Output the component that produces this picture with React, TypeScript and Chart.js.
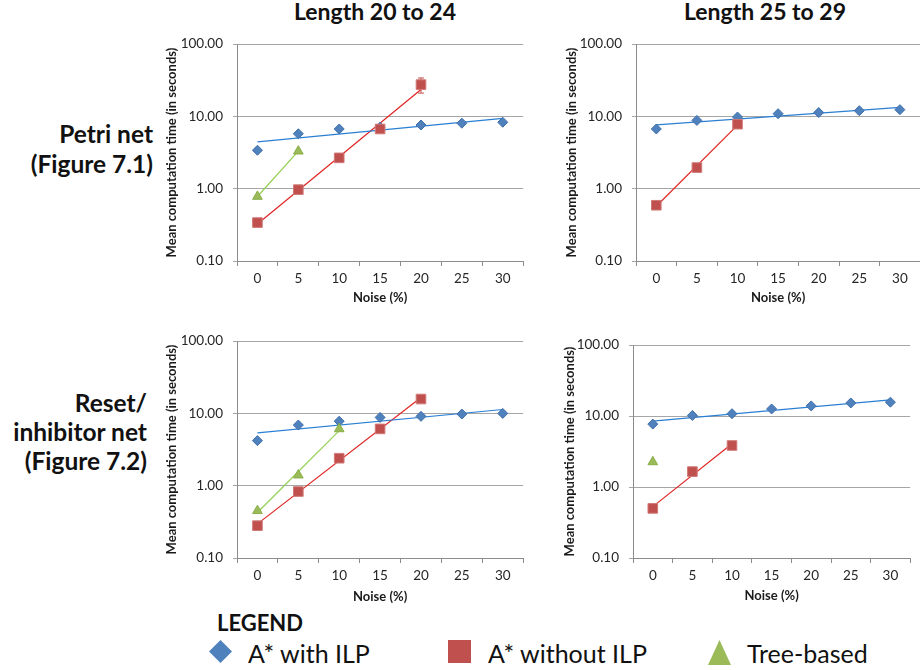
import React, { useEffect, useRef } from "react";
import { Chart, registerables } from "chart.js";
Chart.register(...registerables);

// ---------- data ----------
const noiseLabels = ["0", "5", "10", "15", "20", "25", "30"];
const yTickValues = [0.1, 1, 10, 100];

const colTitles = ["Length 20 to 24", "Length 25 to 29"];
const rowTitlePetri = ["Petri net", "(Figure 7.1)"];
const rowTitleReset = ["Reset/", "inhibitor net", "(Figure 7.2)"];
const legendNames = ["A* with ILP", "A* without ILP", "Tree-based"];

// Petri net, length 20 to 24
const petri20WithILP = [3.4, 5.75, 6.7, 7.1, 7.6, 8.05, 8.3];
const petri20WithoutILP = [0.34, 0.97, 2.67, 6.7, 27.5, null, null];
const petri20WithoutILPErrLow = [null, null, null, null, 21, null, null];
const petri20WithoutILPErrHigh = [null, null, null, null, 34, null, null];
const petri20Tree = [0.78, 3.3, null, null, null, null, null];

// Petri net, length 25 to 29
const petri25WithILP = [6.7, 8.8, 9.8, 10.9, 11.3, 12.0, 12.4];
const petri25WithoutILP = [0.59, 1.96, 7.8, null, null, null, null];
const petri25Tree = [null, null, null, null, null, null, null];

// Reset/inhibitor net, length 20 to 24
const reset20WithILP = [4.2, 6.9, 7.8, 8.8, 9.1, 9.8, 10.0];
const reset20WithoutILP = [0.28, 0.83, 2.4, 6.1, 15.8, null, null];
const reset20Tree = [0.45, 1.4, 6.1, null, null, null, null];

// Reset/inhibitor net, length 25 to 29
const reset25WithILP = [7.7, 10.2, 10.8, 12.6, 13.9, 15.3, 15.7];
const reset25WithoutILP = [0.5, 1.65, 3.85, null, null, null, null];
const reset25Tree = [2.26, null, null, null, null, null, null];

// ---------- styles ----------
const FONT = "Lato, 'Open Sans', sans-serif";
const BLUE = "#4F81BD";
const RED = "#C0504D";
const GREEN = "#9BBB59";
const BLUE_TREND = "#2A7FD2";
const RED_TREND = "#E02424";
const GREEN_TREND = "#92D050";

// Excel-style exponential trendline (least squares on log values)
function expTrend(values: (number | null)[]) {
  const pts: { x: number; y: number; label: string }[] = [];
  values.forEach((v, i) => {
    if (v != null) pts.push({ x: Number(noiseLabels[i]), y: Math.log(v), label: noiseLabels[i] });
  });
  if (pts.length < 2) return [];
  const n = pts.length;
  const mx = pts.reduce((s, p) => s + p.x, 0) / n;
  const my = pts.reduce((s, p) => s + p.y, 0) / n;
  let sxy = 0, sxx = 0;
  pts.forEach((p) => { sxy += (p.x - mx) * (p.y - my); sxx += (p.x - mx) * (p.x - mx); });
  const b = sxy / sxx;
  const a = my - b * mx;
  const first = pts[0], last = pts[n - 1];
  return [
    { x: first.label, y: Math.exp(a + b * first.x) },
    { x: last.label, y: Math.exp(a + b * last.x) },
  ];
}

const errorBarPlugin = {
  id: "errorBars",
  beforeDatasetsDraw(chart: any) {
    const ctx = chart.ctx;
    const ys = chart.scales.y;
    chart.data.datasets.forEach((ds: any, di: number) => {
      if (!ds.errLow || !ds.errHigh) return;
      const meta = chart.getDatasetMeta(di);
      ds.errLow.forEach((lo: number | null, i: number) => {
        const hi = ds.errHigh[i];
        if (lo == null || hi == null || !meta.data[i]) return;
        const x = meta.data[i].x;
        const y1 = ys.getPixelForValue(lo);
        const y2 = ys.getPixelForValue(hi);
        ctx.save();
        ctx.strokeStyle = ds.errColor || RED;
        ctx.lineWidth = 1;
        ctx.beginPath();
        ctx.moveTo(x, y1); ctx.lineTo(x, y2);
        ctx.moveTo(x - 3, y1); ctx.lineTo(x + 3, y1);
        ctx.moveTo(x - 3, y2); ctx.lineTo(x + 3, y2);
        ctx.stroke();
        ctx.restore();
      });
    });
  },
};

type PanelProps = {
  left: number; top: number; width: number; height: number;
  yAxisWidth: number; xAxisHeight: number;
  withILP: (number | null)[]; withoutILP: (number | null)[]; tree: (number | null)[];
  errLow?: (number | null)[]; errHigh?: (number | null)[];
};

function Panel(p: PanelProps) {
  const ref = useRef<HTMLCanvasElement>(null);
  useEffect(() => {
    if (!ref.current) return;
    const tickFont = { family: FONT, size: 13.5 };
    const series = [
      { data: p.withILP, color: BLUE, border: "#3F6FAA", trend: BLUE_TREND, style: "rectRot", radius: 5, order: 3 },
      { data: p.withoutILP, color: RED, border: "#D07A78", trend: RED_TREND, style: "rect", radius: 6.8, order: 2, errLow: p.errLow, errHigh: p.errHigh },
      { data: p.tree, color: GREEN, border: "#8AAE4A", trend: GREEN_TREND, style: "triangle", radius: 5.6, order: 1 },
    ];
    const datasets: any[] = [];
    series.forEach((s, k) => {
      datasets.push({
        label: legendNames[k],
        data: s.data,
        showLine: false,
        pointStyle: s.style,
        pointRadius: s.radius,
        pointBackgroundColor: s.color,
        pointBorderColor: s.border,
        pointBorderWidth: 1,
        backgroundColor: s.color,
        borderColor: s.color,
        order: s.order,
        errLow: (s as any).errLow,
        errHigh: (s as any).errHigh,
      });
      const t = expTrend(s.data);
      if (t.length) {
        datasets.push({
          label: legendNames[k] + " trend",
          data: t,
          borderColor: s.trend,
          borderWidth: 1.2,
          pointRadius: 0,
          fill: false,
          order: 10 + k,
        });
      }
    });
    const chart = new Chart(ref.current, {
      type: "line",
      data: { labels: noiseLabels, datasets },
      plugins: [errorBarPlugin],
      options: {
        responsive: false,
        animation: false,
        devicePixelRatio: 1,
        layout: { padding: { top: 10, right: 0, bottom: 0, left: 0 } },
        plugins: { legend: { display: false }, tooltip: { enabled: false } },
        scales: {
          x: {
            type: "category",
            offset: true,
            grid: { offset: true, drawOnChartArea: false, drawTicks: true, tickLength: 5, color: "#8c8c8c" },
            border: { color: "#8c8c8c", width: 1 },
            ticks: { font: tickFont, color: "#262626", padding: 5, maxRotation: 0, autoSkip: false },
            title: {
              display: true, text: "Noise (%)", color: "#1a1a1a",
              font: { family: FONT, size: 13, weight: "bold" }, padding: { top: 0, bottom: 4 },
            },
            afterFit: (s: any) => { s.height = p.xAxisHeight; },
          },
          y: {
            type: "logarithmic",
            min: 0.1,
            max: 100,
            afterBuildTicks: (s: any) => { s.ticks = yTickValues.map((v) => ({ value: v })); },
            grid: { color: "#a6a6a6", lineWidth: 1, drawTicks: true, tickLength: 4 },
            border: { color: "#8c8c8c", width: 1 },
            ticks: {
              font: tickFont, color: "#262626", padding: 10, autoSkip: false,
              callback: (v: any) => Number(v).toFixed(2),
            },
            title: {
              display: true, text: "Mean computation time (in seconds)", color: "#1a1a1a",
              font: { family: FONT, size: 13, weight: "bold" }, padding: { top: 3, bottom: 0 },
            },
            afterFit: (s: any) => { s.width = p.yAxisWidth; },
          },
        },
      } as any,
    });
    return () => chart.destroy();
  }, []);
  return (
    <canvas
      ref={ref}
      width={p.width}
      height={p.height}
      style={{ position: "absolute", left: p.left, top: p.top, width: p.width, height: p.height }}
    />
  );
}

function TextAt(props: { x: number; baseline: number; size: number; bold?: boolean; align?: "left" | "right" | "center"; lines: string[]; lineHeight?: number }) {
  const lh = props.lineHeight ?? props.size * 1.2;
  const half = (lh - props.size * 1.2) / 2;
  const top = props.baseline - half - 0.987 * props.size;
  const style: any = {
    position: "absolute",
    top,
    fontFamily: FONT,
    fontSize: props.size,
    fontWeight: props.bold ? 700 : 400,
    lineHeight: lh + "px",
    color: "#111",
    whiteSpace: "nowrap",
    textAlign: props.align ?? "left",
  };
  if (props.align === "right") style.right = 920 - props.x;
  else if (props.align === "center") { style.left = props.x; style.transform = "translateX(-50%)"; }
  else style.left = props.x;
  return (
    <div style={style}>
      {props.lines.map((l, i) => <div key={i}>{l}</div>)}
    </div>
  );
}

export default function App() {
  return (
    <div style={{ position: "fixed", left: 0, top: 0, width: 920, height: 670, overflow: "hidden", background: "#fff" }}>
      <TextAt x={375} baseline={21} size={23} bold align="center" lines={[colTitles[0]]} />
      <TextAt x={765} baseline={21} size={23} bold align="center" lines={[colTitles[1]]} />
      <TextAt x={153} baseline={143} size={24.5} bold align="right" lineHeight={30} lines={rowTitlePetri} />
      <TextAt x={147} baseline={412} size={24.5} bold align="right" lineHeight={29} lines={rowTitleReset} />

      <Panel left={161} top={26} width={370} height={284} yAxisWidth={76} xAxisHeight={49}
        withILP={petri20WithILP} withoutILP={petri20WithoutILP} tree={petri20Tree}
        errLow={petri20WithoutILPErrLow} errHigh={petri20WithoutILPErrHigh} />
      <Panel left={561} top={26} width={367} height={284} yAxisWidth={75} xAxisHeight={49}
        withILP={petri25WithILP} withoutILP={petri25WithoutILP} tree={petri25Tree} />
      <Panel left={161} top={323} width={370} height={286} yAxisWidth={76} xAxisHeight={51}
        withILP={reset20WithILP} withoutILP={reset20WithoutILP} tree={reset20Tree} />
      <Panel left={559} top={327} width={359} height={281} yAxisWidth={74} xAxisHeight={50}
        withILP={reset25WithILP} withoutILP={reset25WithoutILP} tree={reset25Tree} />

      <TextAt x={217} baseline={632} size={22} bold lines={["LEGEND"]} />
      <svg style={{ position: "absolute", left: 209, top: 640 }} width={23} height={23}>
        <polygon points="11.5,0 23,11.5 11.5,23 0,11.5" fill={BLUE} />
      </svg>
      <TextAt x={248} baseline={663} size={25} lines={[legendNames[0]]} />
      <svg style={{ position: "absolute", left: 448, top: 640 }} width={23} height={23}>
        <rect x={0} y={0} width={23} height={23} fill={RED} />
      </svg>
      <TextAt x={488} baseline={663} size={25} lines={[legendNames[1]]} />
      <svg style={{ position: "absolute", left: 708, top: 640 }} width={23} height={25}>
        <polygon points="11.5,0 23,25 0,25" fill={GREEN} />
      </svg>
      <TextAt x={747} baseline={663} size={25} lines={[legendNames[2]]} />
    </div>
  );
}
